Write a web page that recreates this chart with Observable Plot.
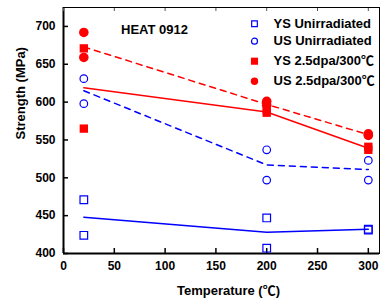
<!DOCTYPE html>
<html><head><meta charset="utf-8">
<script src="https://cdn.jsdelivr.net/npm/d3@7"></script>
<script src="https://cdn.jsdelivr.net/npm/@observablehq/plot@0.6"></script>
<style>body{margin:0;background:#fff}</style>
</head><body><div id="chart"></div>
<script>
// Measured points
const ysUnirrTemp = [20, 20, 200, 200, 300, 300];
const ysUnirrVal  = [471, 424, 447, 407, 432, 431];
const usUnirrTemp = [20, 20, 200, 200, 300, 300];
const usUnirrVal  = [631, 598, 537, 497, 523, 497];
const ysIrrTemp   = [20, 20, 200, 200, 300, 300];
const ysIrrVal    = [671, 565, 590, 586, 541, 537];
const usIrrTemp   = [20, 20, 200, 200, 300, 300];
const usIrrVal    = [692, 659, 601, 596, 558, 556];

// Trend lines (through the mean values)
const fitTemp      = [20, 200, 300];
const ysUnirrFit   = [448, 428, 432];
const usUnirrFit   = [615, 517, 511];
const ysIrrFit     = [619, 587, 539];
const usIrrFit     = [673, 597, 557];

const xTicks = [0, 50, 100, 150, 200, 250, 300];
const yTicks = [400, 450, 500, 550, 600, 650, 700];

const legendLabels = ["YS Unirradiated", "US Unirradiated", "YS 2.5dpa/300\u2103", "US 2.5dpa/300\u2103"];
const annotation = "HEAT 0912";
const xTitle = "Temperature (\u2103)";
const yTitle = "Strength (MPa)";

const BLUE = "#0000ff", RED = "#ff0000";

const series = [
  {t: ysUnirrTemp, v: ysUnirrVal, symbol: "square", fill: "none", stroke: BLUE, r: 4.3, lr: 3.2},
  {t: usUnirrTemp, v: usUnirrVal, symbol: "circle", fill: "none", stroke: BLUE, r: 3.8, lr: 3.0},
  {t: ysIrrTemp,   v: ysIrrVal,   symbol: "square", fill: RED, stroke: "none", r: 4.7, lr: 4.0},
  {t: usIrrTemp,   v: usIrrVal,   symbol: "circle", fill: RED, stroke: "none", r: 4.8, lr: 3.7}
];
const fits = [
  {v: ysUnirrFit, stroke: BLUE, dash: null},
  {v: usUnirrFit, stroke: BLUE, dash: "6,5"},
  {v: ysIrrFit,   stroke: RED,  dash: null},
  {v: usIrrFit,   stroke: RED,  dash: "6,5"}
];
const legendDy = [16.3, 33.7, 53.7, 73.7];

const marks = [];
marks.push(Plot.frame({stroke: "black", strokeWidth: 1}));
marks.push(Plot.ruleX([xTicks[0]], {stroke: "black", strokeWidth: 2}));
marks.push(Plot.ruleY([yTicks[0]], {stroke: "black", strokeWidth: 2}));
marks.push(Plot.axisY({anchor: "left", ticks: yTicks, tickSize: -5, tickPadding: 13, label: null, strokeWidth: 1.5}));
marks.push(Plot.axisX({anchor: "bottom", ticks: xTicks, tickSize: -5, tickPadding: 13, label: null, strokeWidth: 1.5}));
marks.push(Plot.axisX({anchor: "top", ticks: xTicks, tickSize: -3, text: null, label: null, stroke: "#555"}));

for (const f of fits) {
  marks.push(Plot.line(fitTemp, {x: d => d, y: (d, i) => f.v[i], stroke: f.stroke, strokeWidth: 1.5, strokeDasharray: f.dash || undefined}));
}
for (const s of series) {
  marks.push(Plot.dot(s.t, {x: d => d, y: (d, i) => s.v[i], symbol: s.symbol, r: s.r, fill: s.fill, stroke: s.stroke, strokeWidth: 1.2}));
}
legendLabels.forEach((lab, i) => {
  const s = series[i];
  marks.push(Plot.dot([lab], {frameAnchor: "top-left", dx: 191, dy: legendDy[i], symbol: s.symbol, r: s.lr, fill: s.fill, stroke: s.stroke, strokeWidth: 1.2}));
  marks.push(Plot.text([lab], {frameAnchor: "top-left", dx: 210, dy: legendDy[i], text: d => d, textAnchor: "start", lineAnchor: "middle", fill: "black", fontSize: 13}));
});
marks.push(Plot.text([annotation], {frameAnchor: "top-left", dx: 91, dy: 22, text: d => d, textAnchor: "middle", lineAnchor: "middle", fill: "black", fontSize: 13}));
marks.push(Plot.text([xTitle], {frameAnchor: "bottom", dx: 7, dy: 37, text: d => d, lineAnchor: "middle", fill: "black", fontSize: 13}));
marks.push(Plot.text([yTitle], {frameAnchor: "left", dx: -43, dy: 9, rotate: -90, text: d => d, lineAnchor: "middle", fill: "black", fontSize: 13}));

const chart = Plot.plot({
  width: 382,
  height: 298,
  marginLeft: 63,
  marginRight: 3,
  marginTop: 7,
  marginBottom: 45,
  x: {domain: [0, 311]},
  y: {domain: [400, 725]},
  style: {fontFamily: "'Liberation Sans', Arial, sans-serif", fontSize: "12px", fontWeight: "bold", background: "#fff", color: "black", overflow: "visible"},
  marks
});
// Render the degree-Celsius sign with a CJK font, as in the original
d3.select(chart).selectAll("text").each(function () {
  const el = d3.select(this);
  if (el.selectAll("tspan").size() > 0) return;
  const t = el.text();
  if (!t.includes("\u2103")) return;
  const parts = t.split("\u2103");
  el.text(null);
  parts.forEach((p, k) => {
    if (p) el.append("tspan").text(p);
    if (k < parts.length - 1) el.append("tspan").style("font-family", "'Noto Sans CJK SC'").style("font-weight", "bold").text("\u2103");
  });
});
document.getElementById("chart").appendChild(chart);
</script>
</body></html>
